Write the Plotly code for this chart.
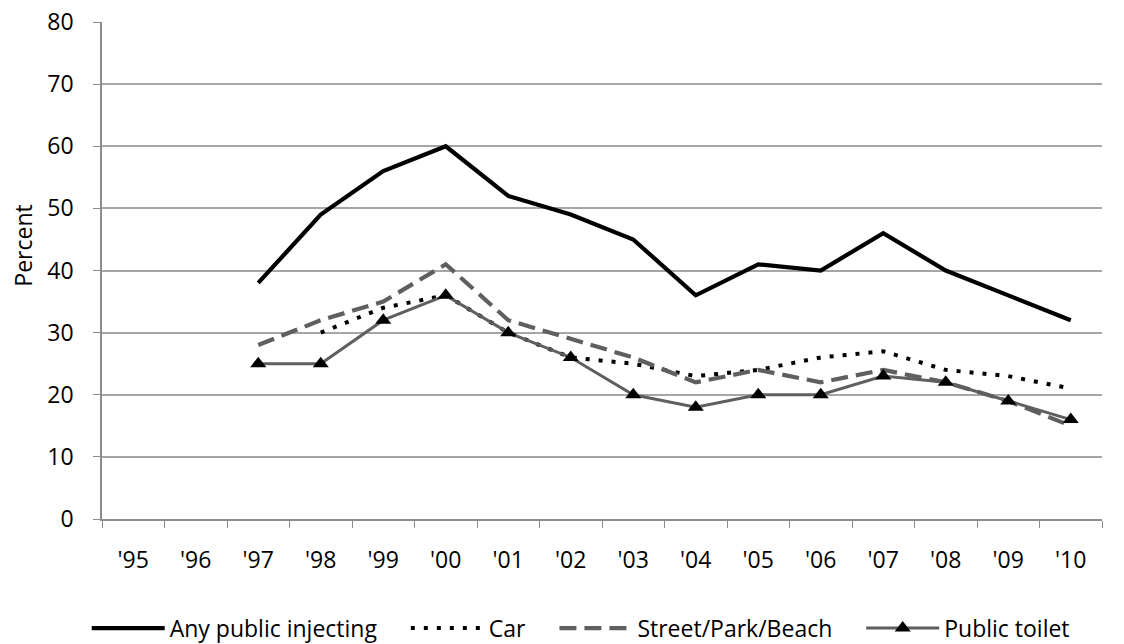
import plotly.graph_objects as go

years = ["'95", "'96", "'97", "'98", "'99", "'00", "'01", "'02",
         "'03", "'04", "'05", "'06", "'07", "'08", "'09", "'10"]

any_public = [None, None, 38, 49, 56, 60, 52, 49, 45, 36, 41, 40, 46, 40, 36, 32]
car = [None, None, None, 30, 34, 36, 30, 26, 25, 23, 24, 26, 27, 24, 23, 21]
street = [None, None, 28, 32, 35, 41, 32, 29, 26, 22, 24, 22, 24, 22, 19, 15]
toilet = [None, None, 25, 25, 32, 36, 30, 26, 20, 18, 20, 20, 23, 22, 19, 16]

FONT = "Open Sans, Liberation Sans, sans-serif"
FS = 23
PAD = "\u00a0" * 4  # extra room between legend entries

fig = go.Figure()
fig.add_trace(go.Scatter(
    x=years, y=any_public, name="Any public injecting" + PAD, mode="lines",
    line=dict(color="black", width=4.2),
))
fig.add_trace(go.Scatter(
    x=years, y=car, name="Car" + PAD, mode="lines",
    line=dict(color="black", width=4, dash="4px,9px"),
))
fig.add_trace(go.Scatter(
    x=years, y=street, name="Street/Park/Beach" + PAD, mode="lines",
    line=dict(color="#5f5f5f", width=4.2, dash="17px,8px"),
))
fig.add_trace(go.Scatter(
    x=years, y=toilet, name="Public toilet", mode="lines+markers",
    line=dict(color="#5f5f5f", width=3),
    marker=dict(symbol="triangle-up", size=14, color="black"),
))

# the page body adds an 8px offset, margins below allow for it
fig.update_layout(
    width=1124, height=644,
    margin=dict(l=94, r=30, t=14, b=133),
    paper_bgcolor="white", plot_bgcolor="white",
    font=dict(family=FONT, size=FS, color="black"),
    showlegend=True,
    legend=dict(
        orientation="h", xref="container", yref="container",
        x=0.07, xanchor="left", y=0.037, yanchor="middle",
        font=dict(size=FS), itemwidth=73, tracegroupgap=0,
    ),
    annotations=[dict(
        text="Percent", textangle=-90, xref="paper", yref="paper",
        x=-0.079, y=0.55, xanchor="center", yanchor="middle",
        showarrow=False, font=dict(size=FS),
    )],
)
fig.update_xaxes(
    type="category", categoryorder="array", categoryarray=years,
    tickson="boundaries", ticks="outside", ticklen=7, tickcolor="#8c8c8c",
    showline=True, linecolor="#8c8c8c", linewidth=1.5,
    showgrid=False, range=[-0.5, 15.5], tickfont=dict(size=FS),
    ticklabelstandoff=20, automargin=False,
)
fig.update_yaxes(
    range=[0, 80], dtick=10, ticks="outside", ticklen=7, tickcolor="#8c8c8c",
    showline=True, linecolor="#8c8c8c", linewidth=1.5,
    showgrid=True, gridcolor="#a6a6a6", gridwidth=1.5, zeroline=False,
    tickfont=dict(size=FS), ticklabelstandoff=15, automargin=False,
    ticklabeloverflow="allow",
)

fig.write_html("out.html")
